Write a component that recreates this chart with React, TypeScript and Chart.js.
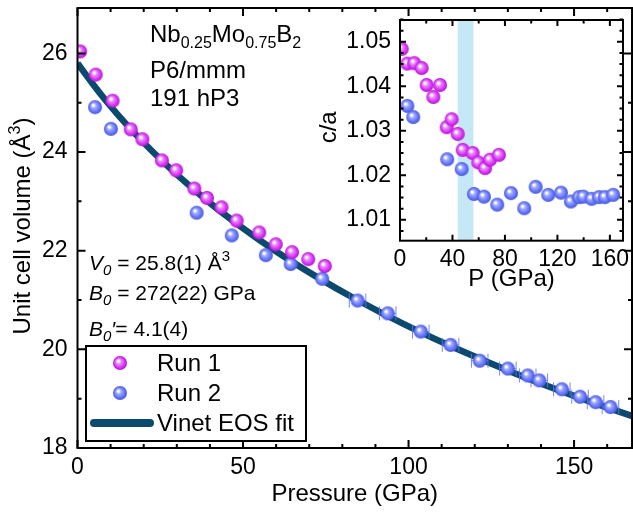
import React, { useEffect, useRef } from "react";
import { Chart, registerables } from "chart.js";

Chart.register(...registerables);

// ---------- Data ----------
const run1P = [0.8, 5.5, 10.6, 16.1, 19.6, 25.5, 29.8, 35.3, 39.1, 43.5, 48.1, 54.9, 59.9, 64.8, 69.7, 74.7];
const run1V = [26.04, 25.57, 25.04, 24.46, 24.26, 23.83, 23.63, 23.26, 23.07, 22.88, 22.61, 22.37, 22.13, 21.97, 21.83, 21.69];

const run2P = [5.3, 10.1, 36.0, 46.6, 56.9, 64.4, 73.9, 84.6, 93.7, 103.7, 112.7, 121.5, 130.0, 136.0, 139.5, 146.3, 151.8, 156.5, 161.0];
const run2V = [24.91, 24.47, 22.77, 22.31, 21.91, 21.73, 21.43, 20.99, 20.73, 20.36, 20.09, 19.77, 19.61, 19.47, 19.37, 19.19, 19.04, 18.93, 18.83];
const run2PErr = [0, 0, 0, 0, 0, 0, 0, 2.5, 2.5, 2.5, 2.5, 2.5, 2.5, 2.5, 2.5, 2.5, 2.5, 2.5, 2.5];

const fitP = [0, 4.4, 9.1, 15.6, 22.8, 30.7, 39.4, 49.1, 59.7, 71.5, 84.5, 98.9, 114.9, 132.6, 152.3, 169.6];
const fitV = [25.8, 25.4, 25.0, 24.5, 24.0, 23.5, 23.0, 22.5, 22.0, 21.5, 21.0, 20.5, 20.0, 19.5, 19.0, 18.6];

const mainXTicks = [0, 50, 100, 150];
const mainYTicks = [18, 20, 22, 24, 26];

const inset1P = [1.3, 5.6, 10.9, 16.5, 20.3, 25.4, 30.5, 35.6, 39.4, 44.0, 47.8, 55.4, 59.7, 64.8, 68.6, 75.4];
const inset1CA = [1.0484, 1.0451, 1.0452, 1.0441, 1.0403, 1.0376, 1.0403, 1.0308, 1.0326, 1.0293, 1.0257, 1.0250, 1.0229, 1.0216, 1.0235, 1.0246];
const inset2P = [5.6, 10.1, 36.0, 47.0, 56.4, 64.0, 74.1, 84.6, 94.7, 103.4, 113.0, 122.7, 130.3, 136.6, 139.7, 146.1, 151.8, 156.2, 162.5];
const inset2CA = [1.0356, 1.0331, 1.0236, 1.0214, 1.0158, 1.0152, 1.0134, 1.0160, 1.0126, 1.0174, 1.0156, 1.0161, 1.0141, 1.0151, 1.0152, 1.0147, 1.0151, 1.0151, 1.0156];
const insetXTicks = [0, 40, 80, 120, 160];
const insetYTicks = [1.01, 1.02, 1.03, 1.04, 1.05];
const insetBand = [44, 56];

const FONT = "'Liberation Sans', Arial, sans-serif";
const FIT_COLOR = "#0b4a6e";
const BALL_R = 7;

type Part = { t: string; s: number; dy?: number; i?: boolean };

function drawRich(ctx: CanvasRenderingContext2D, x: number, y: number, parts: Part[]) {
  let cx = x;
  ctx.textAlign = "left";
  ctx.textBaseline = "alphabetic";
  for (const p of parts) {
    ctx.font = `${p.i ? "italic " : ""}${p.s}px ${FONT}`;
    ctx.fillText(p.t, cx, y + (p.dy || 0));
    cx += ctx.measureText(p.t).width;
  }
  return cx - x;
}

function makeBall(r: number, light: string, base: string, dark: string) {
  const s = Math.ceil(r * 2) + 2;
  const c = document.createElement("canvas");
  c.width = s;
  c.height = s;
  const ctx = c.getContext("2d")!;
  const cx = s / 2, cy = s / 2;
  const g = ctx.createRadialGradient(cx - r * 0.3, cy - r * 0.33, 0, cx, cy, r);
  g.addColorStop(0, "#ffffff");
  g.addColorStop(0.14, "#ffffff");
  g.addColorStop(0.36, light);
  g.addColorStop(0.78, base);
  g.addColorStop(1, dark);
  ctx.beginPath();
  ctx.arc(cx, cy, r, 0, Math.PI * 2);
  ctx.fillStyle = g;
  ctx.fill();
  return c;
}

function drawTicks(
  ctx: CanvasRenderingContext2D,
  chart: any,
  xs: { v: number; major: boolean }[],
  ys: { v: number; major: boolean }[],
  maj: number,
  min: number
) {
  const a = chart.chartArea;
  const sx = chart.scales.x, sy = chart.scales.y;
  ctx.save();
  ctx.strokeStyle = "#000";
  ctx.lineWidth = 2;
  ctx.beginPath();
  for (const t of xs) {
    const px = sx.getPixelForValue(t.v);
    if (px < a.left - 0.5 || px > a.right + 0.5) continue;
    const L = t.major ? maj : min;
    ctx.moveTo(px, a.bottom);
    ctx.lineTo(px, a.bottom - L);
    ctx.moveTo(px, a.top);
    ctx.lineTo(px, a.top + L);
  }
  for (const t of ys) {
    const py = sy.getPixelForValue(t.v);
    if (py < a.top - 0.5 || py > a.bottom + 0.5) continue;
    const L = t.major ? maj : min;
    ctx.moveTo(a.left, py);
    ctx.lineTo(a.left + L, py);
    ctx.moveTo(a.right, py);
    ctx.lineTo(a.right - L, py);
  }
  ctx.stroke();
  ctx.strokeRect(a.left, a.top, a.right - a.left, a.bottom - a.top);
  ctx.restore();
}

export default function App() {
  const mainRef = useRef<HTMLCanvasElement>(null);
  const insetRef = useRef<HTMLCanvasElement>(null);

  useEffect(() => {
    const ballM = makeBall(BALL_R, "#e98cfb", "#d52cf2", "#b016d0");
    const ballB = makeBall(BALL_R, "#a0aaff", "#6070f7", "#4858dc");

    const mainX: { v: number; major: boolean }[] = [];
    for (let v = 0; v <= 170; v += 10) mainX.push({ v, major: v % 50 === 0 });
    const mainY: { v: number; major: boolean }[] = [];
    for (let v = 18; v <= 27; v += 1) mainY.push({ v, major: v % 2 === 0 });

    const mainPlugin = {
      id: "mainDeco",
      beforeDatasetDraw(chart: any, args: any) {
        if (args.index !== 1) return;
        const ctx = chart.ctx;
        const sx = chart.scales.x, sy = chart.scales.y;
        ctx.save();
        ctx.strokeStyle = "rgba(95,115,250,0.85)";
        ctx.lineWidth = 1;
        ctx.beginPath();
        run2P.forEach((p, i) => {
          const e = run2PErr[i];
          if (!e) return;
          const py = sy.getPixelForValue(run2V[i]);
          const x1 = sx.getPixelForValue(p - e), x2 = sx.getPixelForValue(p + e);
          ctx.moveTo(x1, py); ctx.lineTo(x2, py);
          ctx.moveTo(x1, py - 7); ctx.lineTo(x1, py + 7);
          ctx.moveTo(x2, py - 7); ctx.lineTo(x2, py + 7);
        });
        ctx.stroke();
        ctx.restore();
      },
      afterDraw(chart: any) {
        const ctx: CanvasRenderingContext2D = chart.ctx;
        const a = chart.chartArea;
        drawTicks(ctx, chart, mainX, mainY, 8, 4);
        ctx.save();
        ctx.fillStyle = "#000";
        ctx.font = `24px ${FONT}`;
        ctx.textAlign = "center";
        ctx.textBaseline = "alphabetic";
        ctx.fillText("Pressure (GPa)", (a.left + a.right) / 2, 501);
        ctx.save();
        ctx.translate(30, (a.top + a.bottom) / 2 - 2);
        ctx.rotate(-Math.PI / 2);
        const partsY: Part[] = [
          { t: "Unit cell volume (Å", s: 24 },
          { t: "3", s: 16, dy: -10 },
          { t: ")", s: 24 },
        ];
        let w = 0;
        for (const p of partsY) { ctx.font = `${p.s}px ${FONT}`; w += ctx.measureText(p.t).width; }
        drawRich(ctx, -w / 2, 0, partsY);
        ctx.restore();

        drawRich(ctx, 150, 42, [
          { t: "Nb", s: 24 }, { t: "0.25", s: 16, dy: 6 },
          { t: "Mo", s: 24 }, { t: "0.75", s: 16, dy: 6 },
          { t: "B", s: 24 }, { t: "2", s: 16, dy: 6 },
        ]);
        drawRich(ctx, 150, 78, [{ t: "P6/mmm", s: 24 }]);
        drawRich(ctx, 150, 106, [{ t: "191 hP3", s: 24 }]);

        drawRich(ctx, 89, 270, [
          { t: "V", s: 21, i: true }, { t: "0", s: 15, dy: 5, i: true },
          { t: " = 25.8(1) Å", s: 21 }, { t: "3", s: 15, dy: -9 },
        ]);
        drawRich(ctx, 89, 300, [
          { t: "B", s: 21, i: true }, { t: "0", s: 15, dy: 5, i: true },
          { t: " = 272(22) GPa", s: 21 },
        ]);
        drawRich(ctx, 89, 336, [
          { t: "B", s: 21, i: true }, { t: "0", s: 15, dy: 5, i: true },
          { t: "\u2032", s: 21, i: true }, { t: "= 4.1(4)", s: 21 },
        ]);

        ctx.fillStyle = "#fff";
        ctx.fillRect(86, 346, 220, 95);
        ctx.strokeStyle = "#000";
        ctx.lineWidth = 2;
        ctx.strokeRect(86, 346, 220, 95);
        ctx.drawImage(ballM, 120 - ballM.width / 2, 363 - ballM.height / 2);
        ctx.drawImage(ballB, 120 - ballB.width / 2, 393 - ballB.height / 2);
        ctx.strokeStyle = FIT_COLOR;
        ctx.lineWidth = 8;
        ctx.lineCap = "round";
        ctx.beginPath();
        ctx.moveTo(94, 423);
        ctx.lineTo(150, 423);
        ctx.stroke();
        ctx.fillStyle = "#000";
        drawRich(ctx, 157, 371, [{ t: "Run 1", s: 24 }]);
        drawRich(ctx, 157, 401, [{ t: "Run 2", s: 24 }]);
        drawRich(ctx, 157, 431, [{ t: "Vinet EOS fit", s: 24 }]);
        ctx.restore();
      },
    };

    const main = new Chart(mainRef.current!, {
      type: "scatter",
      data: {
        datasets: [
          {
            label: "Run 1",
            data: run1P.map((p, i) => ({ x: p, y: run1V[i] })),
            pointStyle: ballM as any,
            pointRadius: BALL_R,
            order: 0,
          },
          {
            label: "Run 2",
            data: run2P.map((p, i) => ({ x: p, y: run2V[i] })),
            pointStyle: ballB as any,
            pointRadius: BALL_R,
            order: 1,
          },
          {
            label: "Vinet EOS fit",
            type: "line",
            data: fitP.map((p, i) => ({ x: p, y: fitV[i] })),
            borderColor: FIT_COLOR,
            borderWidth: 6.5,
            pointRadius: 0,
            fill: false,
            cubicInterpolationMode: "monotone",
            order: 2,
          } as any,
        ],
      },
      options: {
        animation: false,
        responsive: false,
        devicePixelRatio: 1,
        layout: { padding: { left: 0, top: 2, right: 5, bottom: 0 } },
        plugins: { legend: { display: false }, tooltip: { enabled: false } },
        scales: {
          x: {
            type: "linear",
            min: 0,
            max: 167.5,
            grid: { display: false, drawTicks: false },
            border: { display: false },
            afterBuildTicks: (s: any) => { s.ticks = mainXTicks.map((v) => ({ value: v })); },
            ticks: {
              color: "#000",
              font: { family: FONT, size: 23 },
              padding: 6,
              maxRotation: 0,
              autoSkip: false,
              callback: (v: any) => String(v),
            },
            afterFit: (s: any) => { s.height = 66; s.paddingLeft = 0; s.paddingRight = 0; },
          },
          y: {
            type: "linear",
            min: 18,
            max: 26.92,
            grid: { display: false, drawTicks: false },
            border: { display: false },
            afterBuildTicks: (s: any) => { s.ticks = mainYTicks.map((v) => ({ value: v })); },
            ticks: {
              color: "#000",
              font: { family: FONT, size: 23 },
              padding: 10,
              autoSkip: false,
              callback: (v: any) => String(v),
            },
            afterFit: (s: any) => { s.width = 77.5; s.paddingTop = 0; s.paddingBottom = 0; },
          },
        },
      } as any,
      plugins: [mainPlugin],
    });

    const inX: { v: number; major: boolean }[] = [];
    for (let v = 0; v <= 170; v += 20) inX.push({ v, major: v % 40 === 0 });
    const inY: { v: number; major: boolean }[] = [];
    for (let k = 0; k <= 24; k++) {
      const v = 1.0 + k * 0.0025;
      inY.push({ v, major: k % 4 === 0 });
    }

    const insetPlugin = {
      id: "insetDeco",
      beforeDatasetsDraw(chart: any) {
        const ctx = chart.ctx;
        const a = chart.chartArea;
        const sx = chart.scales.x;
        const x1 = sx.getPixelForValue(insetBand[0]);
        const x2 = sx.getPixelForValue(insetBand[1]);
        ctx.save();
        ctx.fillStyle = "#c6e7f5";
        ctx.fillRect(x1, a.top, x2 - x1, a.bottom - a.top);
        ctx.restore();
      },
      afterDraw(chart: any) {
        const ctx: CanvasRenderingContext2D = chart.ctx;
        const a = chart.chartArea;
        drawTicks(ctx, chart, inX, inY, 6, 3.5);
        ctx.save();
        ctx.fillStyle = "#000";
        ctx.font = `24px ${FONT}`;
        ctx.textAlign = "center";
        ctx.textBaseline = "alphabetic";
        ctx.fillText("P (GPa)", (a.left + a.right) / 2, 286);
        ctx.translate(336, (a.top + a.bottom) / 2 - 3);
        ctx.rotate(-Math.PI / 2);
        ctx.fillText("c/a", 0, 0);
        ctx.restore();
      },
    };

    const inset = new Chart(insetRef.current!, {
      type: "scatter",
      data: {
        datasets: [
          {
            label: "Run 1",
            data: inset1P.map((p, i) => ({ x: p, y: inset1CA[i] })),
            pointStyle: ballM as any,
            pointRadius: BALL_R,
            order: 0,
          },
          {
            label: "Run 2",
            data: inset2P.map((p, i) => ({ x: p, y: inset2CA[i] })),
            pointStyle: ballB as any,
            pointRadius: BALL_R,
            order: 1,
          },
        ],
      },
      options: {
        animation: false,
        responsive: false,
        devicePixelRatio: 1,
        layout: { padding: { left: 340, top: 20, right: 17, bottom: 213.3 } },
        plugins: { legend: { display: false }, tooltip: { enabled: false } },
        scales: {
          x: {
            type: "linear",
            min: 0,
            max: 170,
            grid: { display: false, drawTicks: false },
            border: { display: false },
            afterBuildTicks: (s: any) => { s.ticks = insetXTicks.map((v) => ({ value: v })); },
            ticks: {
              color: "#000",
              font: { family: FONT, size: 23 },
              padding: 5,
              maxRotation: 0,
              autoSkip: false,
              callback: (v: any) => String(v),
            },
            afterFit: (s: any) => { s.height = 60; s.paddingLeft = 0; s.paddingRight = 0; },
          },
          y: {
            type: "linear",
            min: 1.0053,
            max: 1.0549,
            grid: { display: false, drawTicks: false },
            border: { display: false },
            afterBuildTicks: (s: any) => { s.ticks = insetYTicks.map((v) => ({ value: v })); },
            ticks: {
              color: "#000",
              font: { family: FONT, size: 23 },
              padding: 9,
              autoSkip: false,
              callback: (v: any) => Number(v).toFixed(2),
            },
            afterFit: (s: any) => { s.width = 60; s.paddingTop = 0; s.paddingBottom = 0; },
          },
        },
      } as any,
      plugins: [insetPlugin],
    });

    return () => {
      main.destroy();
      inset.destroy();
    };
  }, []);

  return (
    <div
      style={{
        position: "absolute",
        left: 0,
        top: 0,
        width: 633,
        height: 514,
        overflow: "hidden",
        background: "#fff",
      }}
    >
      <canvas
        ref={mainRef}
        width={640}
        height={514}
        style={{ position: "absolute", left: 0, top: 0, width: 640, height: 514 }}
      />
      <canvas
        ref={insetRef}
        width={640}
        height={514}
        style={{ position: "absolute", left: 0, top: 0, width: 640, height: 514 }}
      />
    </div>
  );
}
